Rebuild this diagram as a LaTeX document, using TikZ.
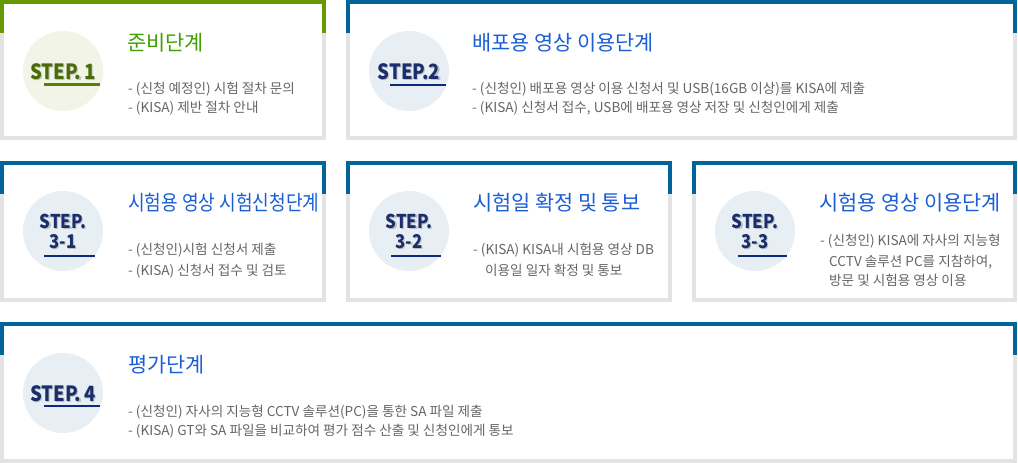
\documentclass[tikz,border=0pt]{standalone}
\usepackage{fontspec}
\setmainfont{Noto Sans CJK KR}
\definecolor{grn}{HTML}{669900}
\definecolor{blu}{HTML}{006699}
\definecolor{bordergray}{HTML}{E3E3E3}
\definecolor{titlegrn}{HTML}{40A000}
\definecolor{titleblu}{HTML}{1A5ED6}
\definecolor{bodygray}{HTML}{666666}
\definecolor{circg}{HTML}{F1F4E6}
\definecolor{circb}{HTML}{E8EFF4}
\definecolor{stepg}{HTML}{4A6B0A}
\definecolor{stepb}{HTML}{1B2E6B}
\definecolor{lineg}{HTML}{5A8200}
\definecolor{lineb}{HTML}{0E2A7C}
\newcommand{\panelbox}[5]{%
  \fill[bordergray] (#1,#2) rectangle (#3,#4);
  \fill[#5] (#1,#2) rectangle (#3,#2+33);
  \fill[white] (#1+4,#2+4) rectangle (#3-4,#4-4);}
\newcommand{\cond}[1]{\scalebox{0.88}[1]{#1}}
\tikzset{
  ttl/.style={anchor=base west, inner sep=0pt, font=\fontsize{20.8}{22}\selectfont},
  bdy/.style={anchor=base west, inner sep=0pt, text=bodygray, font=\fontsize{13.6}{15}\selectfont},
  stepone/.style={anchor=base, inner sep=0pt, font=\bfseries\fontsize{21}{21}\selectfont},
  steptwo/.style={anchor=base, inner sep=0pt, font=\bfseries\fontsize{19}{19}\selectfont},
  shade/.style={text=black, opacity=0.2},
  uline/.style={line width=2.7pt}
}
\begin{document}
\begin{tikzpicture}[x=1pt,y=-1pt]
\useasboundingbox (0,0) rectangle (1018,463);
% panels
\panelbox{0}{0}{326}{140}{grn}
\panelbox{346}{0}{1017}{140}{blu}
\panelbox{0}{161}{326}{302}{blu}
\panelbox{346}{161}{672}{302}{blu}
\panelbox{692}{161}{1017}{302}{blu}
\panelbox{0}{322}{1017}{463}{blu}
% circles
\fill[circg] (63,71) circle[radius=40];
\fill[circb] (409,71) circle[radius=40];
\fill[circb] (63,231) circle[radius=40];
\fill[circb] (409,231) circle[radius=40];
\fill[circb] (755,231) circle[radius=40];
\fill[circb] (63,393) circle[radius=40];
% step 1
\node[stepone, shade] (s1sh) at (64.2,80.6) {\cond{STEP.\,1}};
\node[stepone, text=stepg] (s1) at (63,79) {\cond{STEP.\,1}};
\draw[uline, lineg] (44,84.5) -- (100,84.5);
% step 2
\node[stepone, shade] (s2sh) at (410.2,80.6) {\cond{STEP.2}};
\node[stepone, text=stepb] (s2) at (409,79) {\cond{STEP.2}};
\draw[uline, lineb] (390,85) -- (446,85);
% step 3-1
\node[steptwo, shade] (s31ash) at (64.2,229.6) {\cond{STEP.}};
\node[steptwo, text=stepb] (s31a) at (63,228) {\cond{STEP.}};
\node[steptwo, shade] (s31bsh) at (64.2,249.6) {\cond{3-1}};
\node[steptwo, text=stepb] (s31b) at (63,248) {\cond{3-1}};
\draw[uline, lineb] (44,256) -- (95,256);
% step 3-2
\node[steptwo, shade] (s32ash) at (410.2,229.6) {\cond{STEP.}};
\node[steptwo, text=stepb] (s32a) at (409,228) {\cond{STEP.}};
\node[steptwo, shade] (s32bsh) at (410.2,249.6) {\cond{3-2}};
\node[steptwo, text=stepb] (s32b) at (409,248) {\cond{3-2}};
\draw[uline, lineb] (391,256) -- (441,256);
% step 3-3
\node[steptwo, shade] (s33ash) at (756.2,229.6) {\cond{STEP.}};
\node[steptwo, text=stepb] (s33a) at (755,228) {\cond{STEP.}};
\node[steptwo, shade] (s33bsh) at (756.2,249.6) {\cond{3-3}};
\node[steptwo, text=stepb] (s33b) at (755,248) {\cond{3-3}};
\draw[uline, lineb] (738,256) -- (787,256);
% step 4
\node[stepone, shade] (s4sh) at (64.2,402.6) {\cond{STEP.\,4}};
\node[stepone, text=stepb] (s4) at (63,401) {\cond{STEP.\,4}};
\draw[uline, lineb] (44,406) -- (100,406);
% titles
\node[ttl, text=titlegrn] (t1) at (127,50) {준비단계};
\node[ttl, text=titleblu] (t2) at (472,50) {배포용 영상 이용단계};
\node[ttl, text=titleblu] (t31) at (128,210.5) {\scalebox{0.87}[1]{시험용 영상 시험신청단계}};
\node[ttl, text=titleblu] (t32) at (473,210.5) {시험일 확정 및 통보};
\node[ttl, text=titleblu] (t33) at (819,210.5) {시험용 영상 이용단계};
\node[ttl, text=titleblu] (t4) at (128,372) {평가단계};
% body texts
\node[bdy] (b1a) at (128,93.5) {- (신청 예정인) 시험 절차 문의};
\node[bdy] (b1b) at (128,112) {- (KISA) 제반 절차 안내};
\node[bdy] (b2a) at (472,93.5) {- (신청인) 배포용 영상 이용 신청서 및 USB(16GB 이상)를 KISA에 제출};
\node[bdy] (b2b) at (472,112) {- (KISA) 신청서 접수, USB에 배포용 영상 저장 및 신청인에게 제출};
\node[bdy] (b31a) at (128,254) {- (신청인)시험 신청서 제출};
\node[bdy] (b31b) at (128,275) {- (KISA) 신청서 접수 및 검토};
\node[bdy] (b32a) at (473,254) {- (KISA) KISA내 시험용 영상 DB};
\node[bdy] (b32b) at (485,275) {이용일 일자 확정 및 통보};
\node[bdy] (b33a) at (820,245.5) {- (신청인) KISA에 자사의 지능형};
\node[bdy] (b33b) at (829,266) {CCTV 솔루션 PC를 지참하여,};
\node[bdy] (b33c) at (829,285.5) {방문 및 시험용 영상 이용};
\node[bdy] (b4a) at (128,416) {- (신청인) 자사의 지능형 CCTV 솔루션(PC)을 통한 SA 파일 제출};
\node[bdy] (b4b) at (128,435) {- (KISA) GT와 SA 파일을 비교하여 평가 점수 산출 및 신청인에게 통보};
\end{tikzpicture}
\end{document}
